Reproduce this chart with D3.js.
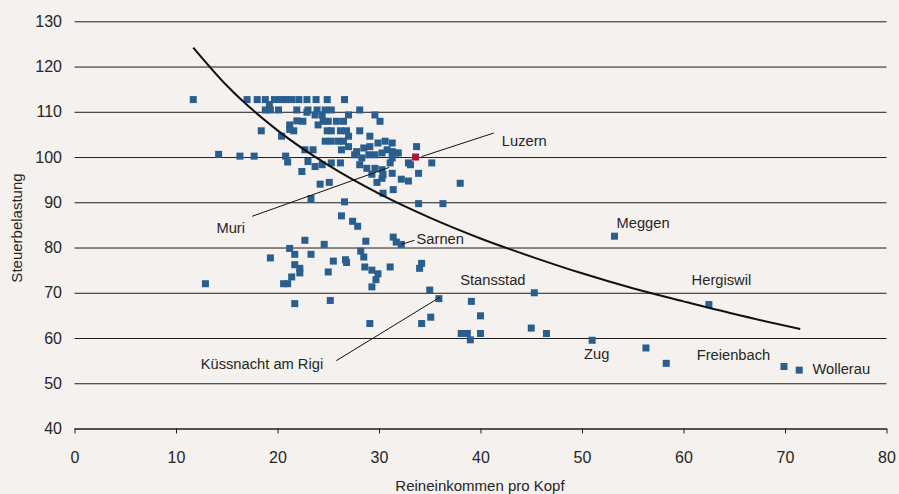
<!DOCTYPE html>
<html>
<head>
<meta charset="utf-8">
<script src="https://cdn.jsdelivr.net/npm/d3@7"></script>
<style>
body { margin: 0; background: #f4f1ee; }
text { font-family: "Liberation Sans", Arial, sans-serif; fill: #262626; }
</style>
</head>
<body>
<div id="chart"></div>
<script>
/*
  Steuerbelastung vs. Reineinkommen pro Kopf, Gemeinden
*/

// Reineinkommen pro Kopf (x) der Gemeinden
var einkommen = [
  11.7, 17.0, 18.0, 18.8, 19.7, 20.3, 20.8, 21.4, 22.1, 22.9, 23.8, 24.9, 26.6,
  19.2, 18.8, 19.3, 20.1, 21.9, 23.0, 23.9, 24.7, 25.3, 28.1, 22.9,
  23.7, 24.4, 27.0, 29.6, 21.9, 22.5, 24.5, 25.0, 25.8, 26.5, 30.1,
  21.2, 24.0, 18.4, 21.2, 21.6, 24.9, 25.3, 26.2, 26.8, 28.1,
  20.4, 27.0, 29.1, 24.7, 25.3, 26.0, 26.5, 29.9, 30.6, 31.3,
  26.3, 27.0, 27.8, 28.5, 29.1, 22.7, 23.5, 30.8, 31.3, 33.7,
  14.2, 16.3, 17.7, 20.8, 27.6, 28.3, 29.0, 29.6, 30.3, 31.6, 31.9, 31.3,
  21.0, 23.0, 23.7, 24.4, 25.3, 26.2, 28.1, 28.8, 29.6, 30.3, 31.1, 32.9, 33.1, 35.2,
  22.4, 30.4, 31.3, 33.9, 29.3, 24.2, 25.1, 29.8, 30.3, 32.2, 32.9, 38.0,
  30.4, 31.4, 23.3, 26.6, 33.9, 36.3, 26.3, 27.4, 27.9,
  31.4, 31.7, 32.2, 22.7, 24.6, 28.7, 21.2, 21.7, 23.3, 28.2, 28.5, 19.3,
  25.5, 26.7, 26.8, 21.7, 28.6, 31.1, 34.2, 34.0, 22.2, 22.2, 21.4, 25.0,
  29.3, 29.9, 29.7, 29.3, 12.9, 20.6, 21.0, 35.0, 21.7, 25.2, 29.1,
  35.9, 39.1, 40.0, 35.1, 34.2, 38.1, 38.7, 39.0, 40.0,
  45.3, 45.0, 46.5, 51.0, 53.2, 56.3, 58.3, 62.5, 69.9, 71.4
];

// Steuerbelastung (y) der Gemeinden
var steuer = [
  112.7, 112.7, 112.7, 112.7, 112.7, 112.7, 112.7, 112.7, 112.7, 112.7, 112.7, 112.7, 112.7,
  111.6, 110.4, 110.4, 110.4, 110.4, 110.4, 110.4, 110.4, 110.4, 110.4, 109.9,
  109.3, 109.3, 109.3, 109.3, 108.0, 107.9, 107.9, 107.9, 107.9, 107.9, 107.9,
  107.1, 107.1, 105.8, 106.1, 105.8, 105.8, 105.8, 105.8, 105.8, 105.8,
  104.6, 104.6, 104.6, 103.5, 103.5, 103.5, 103.5, 103.1, 103.5, 103.1,
  101.6, 102.3, 101.2, 102.0, 102.3, 101.6, 101.6, 101.6, 101.2, 102.3,
  100.6, 100.2, 100.2, 100.2, 100.5, 99.8, 100.5, 100.5, 100.9, 100.9, 100.9, 99.8,
  98.9, 99.0, 97.9, 98.3, 98.7, 98.7, 98.3, 97.5, 97.5, 97.2, 98.7, 98.7, 98.3, 98.7,
  96.8, 96.1, 96.4, 96.4, 96.2, 94.0, 94.4, 94.4, 95.3, 95.1, 94.7, 94.2,
  92.0, 92.8, 90.8, 90.1, 89.7, 89.7, 87.0, 85.8, 84.7,
  82.3, 81.2, 80.7, 81.6, 80.7, 81.4, 79.8, 78.5, 78.5, 79.2, 77.9, 77.7,
  77.0, 77.3, 76.7, 76.2, 75.7, 75.7, 76.5, 75.4, 75.4, 74.4, 73.5, 74.6,
  75.0, 74.2, 72.9, 71.3, 72.0, 72.0, 72.0, 70.6, 67.6, 68.3, 63.2,
  68.7, 68.1, 64.9, 64.6, 63.2, 61.0, 61.0, 59.6, 61.0,
  70.0, 62.2, 61.0, 59.5, 82.5, 57.8, 54.4, 67.4, 53.7, 52.9
];

// Stadt Luzern (rot hervorgehoben)
var luzernX = 33.6;
var luzernY = 100.0;

// Trendkurve
var kurveX = [11.7, 15, 20, 25, 30, 35, 40, 45, 50, 55, 60, 65, 71.5];
var kurveY = [124.2, 115.8, 105.9, 98.2, 91.9, 86.6, 82.0, 78.0, 74.3, 71.0, 68.1, 65.3, 62.0];

// Achsen
var xTicks = [0, 10, 20, 30, 40, 50, 60, 70, 80];
var yTicks = [40, 50, 60, 70, 80, 90, 100, 110, 120, 130];

// Beschriftungen (Textposition und Hinweislinie in Datenwerten)
var labels = [
  { name: "Luzern", x: 42.1, y: 103.5, anchor: "start", line: [34.2, 100.1, 41.3, 105.3] },
  { name: "Muri", x: 16.8, y: 84.3, anchor: "end", line: [17.5, 86.9, 31.0, 97.7] },
  { name: "Sarnen", x: 33.7, y: 82.0, anchor: "start", line: [32.2, 80.7, 33.5, 81.6] },
  { name: "Stansstad", x: 38.0, y: 72.9, anchor: "start", line: null },
  { name: "Küssnacht am Rigi", x: 24.5, y: 54.2, anchor: "end", line: [25.8, 55.0, 36.0, 69.0] },
  { name: "Meggen", x: 53.4, y: 85.4, anchor: "start", line: null },
  { name: "Hergiswil", x: 60.8, y: 72.9, anchor: "start", line: null },
  { name: "Zug", x: 50.2, y: 56.6, anchor: "start", line: null },
  { name: "Freienbach", x: 61.3, y: 56.3, anchor: "start", line: null },
  { name: "Wollerau", x: 72.7, y: 53.1, anchor: "start", line: null }
];

var width = 899,
    height = 494;

var svg = d3.select("#chart").append("svg")
    .attr("width", width)
    .attr("height", height);

svg.append("rect")
    .attr("width", width)
    .attr("height", height)
    .attr("fill", "#f4f1ee");

var x = d3.scaleLinear().domain([0, 80]).range([74.5, 886.5]);
var y = d3.scaleLinear().domain([40, 130]).range([428.5, 21.3]);

// horizontal grid + y labels
var yAxis = svg.append("g")
    .attr("transform", "translate(" + x(0) + ",0)")
    .call(d3.axisLeft(y)
        .tickValues(yTicks)
        .tickSize(-(x(80) - x(0)))
        .tickPadding(12.5));
yAxis.select(".domain").remove();
yAxis.selectAll(".tick line").attr("stroke", "#1e1e1e");
yAxis.selectAll("text")
    .attr("font-size", 16)
    .attr("font-family", "Liberation Sans, Arial, sans-serif")
    .attr("fill", "#262626");

// x axis
var xAxis = svg.append("g")
    .attr("transform", "translate(0," + y(40) + ")")
    .call(d3.axisBottom(x)
        .tickValues(xTicks)
        .tickSize(5)
        .tickSizeOuter(0)
        .tickPadding(18));
xAxis.select(".domain").attr("stroke", "#1e1e1e");
xAxis.selectAll(".tick line").attr("stroke", "#1e1e1e");
xAxis.selectAll("text")
    .attr("font-size", 16)
    .attr("font-family", "Liberation Sans, Arial, sans-serif")
    .attr("fill", "#262626");

// axis titles
svg.append("text")
    .attr("transform", "translate(22,228) rotate(-90)")
    .attr("text-anchor", "middle")
    .attr("font-size", 15)
    .text("Steuerbelastung");

svg.append("text")
    .attr("x", 480)
    .attr("y", 491)
    .attr("text-anchor", "middle")
    .attr("font-size", 15)
    .text("Reineinkommen pro Kopf");

// points
var s = 7;
svg.append("g")
  .selectAll("rect")
  .data(d3.range(einkommen.length))
  .enter().append("rect")
    .attr("x", function(i) { return x(einkommen[i]) - s / 2; })
    .attr("y", function(i) { return y(steuer[i]) - s / 2; })
    .attr("width", s)
    .attr("height", s)
    .attr("fill", "#295e8e");

svg.append("rect")
    .attr("x", x(luzernX) - s / 2)
    .attr("y", y(luzernY) - s / 2)
    .attr("width", s)
    .attr("height", s)
    .attr("fill", "#a6173d");

// trend curve
var line = d3.line()
    .x(function(i) { return x(kurveX[i]); })
    .y(function(i) { return y(kurveY[i]); })
    .curve(d3.curveMonotoneX);

svg.append("path")
    .datum(d3.range(kurveX.length))
    .attr("d", line)
    .attr("fill", "none")
    .attr("stroke", "#111")
    .attr("stroke-width", 2);

// labels
var lab = svg.append("g");
labels.forEach(function(d) {
  if (d.line) {
    lab.append("line")
        .attr("x1", x(d.line[0])).attr("y1", y(d.line[1]))
        .attr("x2", x(d.line[2])).attr("y2", y(d.line[3]))
        .attr("stroke", "#111")
        .attr("stroke-width", 1);
  }
  lab.append("text")
      .attr("x", x(d.x))
      .attr("y", y(d.y))
      .attr("dy", "0.35em")
      .attr("text-anchor", d.anchor)
      .attr("font-size", 14.7)
      .text(d.name);
});
</script>
</body>
</html>
